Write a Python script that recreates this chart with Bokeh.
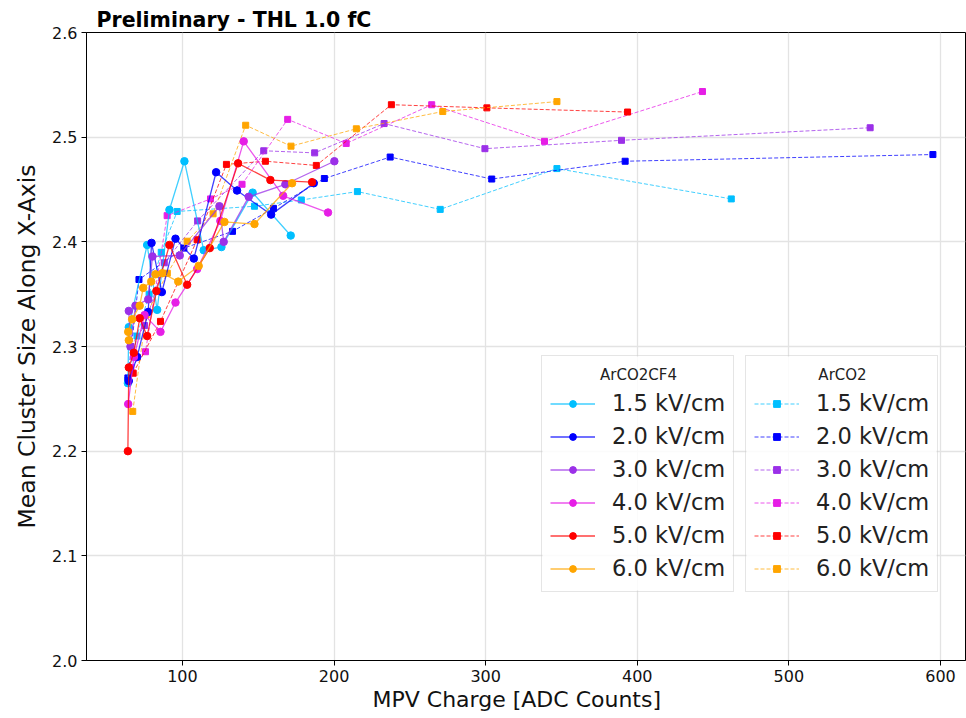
from bokeh.plotting import figure
from bokeh.models import (Legend, LegendItem, FixedTicker, PrintfTickFormatter, Range1d, Label,
                          Title, BoxAnnotation)
from bokeh.embed import file_html
from bokeh.resources import INLINE

fields = ["1.5", "2.0", "3.0", "4.0", "5.0", "6.0"]
colors = ["#00bfff", "#0000ff", "#9b30e8", "#e61ee6", "#ff0000", "#ffa500"]

# ArCO2CF4 (solid, circles)
cf4_x = {
    "1.5": [64, 64.6, 76.7, 83.3, 91.4, 101.3, 114, 125.7, 146.3, 171.4],
    "2.0": [64.6, 70.1, 77.4, 79.6, 86.4, 95.4, 107.5, 122.2, 136, 158.5, 186.6],
    "3.0": [64.6, 65.7, 69, 77.4, 80.2, 98.2, 124.4, 127.2, 143.7, 167.9, 200.2],
    "4.0": [64.2, 68, 75, 85.5, 95.4, 109.7, 125, 140.4, 166.4, 196],
    "5.0": [64, 64.6, 67.9, 71.8, 76.7, 82.8, 91.4, 103.1, 118, 136.7, 158, 185.5],
    "6.0": [64.6, 64.2, 66.8, 71.8, 74.1, 79.4, 82.2, 86.7, 97.2, 110.7, 127.7, 147.5, 172.3],
}
cf4_y = {
    "1.5": [2.265, 2.3185, 2.397, 2.335, 2.4306, 2.477, 2.392, 2.395, 2.447, 2.406],
    "2.0": [2.267, 2.29, 2.333, 2.399, 2.352, 2.403, 2.384, 2.4665, 2.449, 2.426, 2.456],
    "3.0": [2.334, 2.30, 2.339, 2.345, 2.386, 2.387, 2.434, 2.40, 2.443, 2.455, 2.477],
    "4.0": [2.245, 2.29, 2.33, 2.314, 2.342, 2.374, 2.42, 2.496, 2.444, 2.428],
    "5.0": [2.2, 2.28, 2.294, 2.327, 2.31, 2.353, 2.397, 2.359, 2.394, 2.475, 2.459, 2.457],
    "6.0": [2.306, 2.314, 2.326, 2.339, 2.356, 2.362, 2.369, 2.370, 2.362, 2.377, 2.419, 2.417, 2.456],
}
# ArCO2 (dashed, squares)
co2_x = {
    "1.5": [64, 70, 78, 86, 96.5, 147.5, 178.4, 215.4, 270, 347, 462],
    "2.0": [64, 71.3, 100.9, 133, 160, 193.6, 237, 304, 392, 595],
    "3.0": [66, 75, 88, 110, 153.6, 187.2, 233, 299.5, 389.6, 553.6],
    "4.0": [66, 75.6, 89.9, 118.5, 139.3, 169.4, 208, 264.4, 338.8, 443],
    "5.0": [67.5, 85.5, 109.7, 129, 154.7, 188.3, 237.8, 300.8, 393.6],
    "6.0": [67.2, 76, 90, 103.1, 120.2, 141.7, 171.6, 214.7, 271.7, 347],
}
co2_y = {
    "1.5": [2.268, 2.31, 2.35, 2.39, 2.429, 2.434, 2.440, 2.448, 2.431, 2.470, 2.441],
    "2.0": [2.27, 2.364, 2.394, 2.41, 2.432, 2.4605, 2.481, 2.460, 2.477, 2.4834],
    "3.0": [2.30, 2.32, 2.38, 2.42, 2.487, 2.485, 2.513, 2.489, 2.497, 2.509],
    "4.0": [2.28, 2.295, 2.425, 2.441, 2.455, 2.517, 2.494, 2.531, 2.496, 2.5436],
    "5.0": [2.2745, 2.324, 2.402, 2.474, 2.477, 2.473, 2.531, 2.528, 2.524],
    "6.0": [2.238, 2.33, 2.37, 2.4006, 2.4268, 2.5114, 2.4914, 2.508, 2.5245, 2.534],
}
x_ticks = [100, 200, 300, 400, 500, 600]
y_ticks = [2.0, 2.1, 2.2, 2.3, 2.4, 2.5, 2.6]

p = figure(frame_width=879, frame_height=628, output_backend="svg", toolbar_location=None,
           x_range=Range1d(36.7, 616.5), y_range=Range1d(2.0, 2.6),
           min_border_left=86, min_border_right=1, min_border_top=32, min_border_bottom=58,
           background_fill_color="white", border_fill_color="white")

p.title.text = "Preliminary - THL 1.0 fC"
p.title.text_font = "DejaVu Sans"
p.title.text_font_size = "20.5px"
p.title.text_font_style = "bold"
p.title.text_color = "black"
p.title.align = "left"
p.title.offset = 10
p.title.standoff = 1

p.outline_line_color = "black"
p.outline_line_width = 1

for ax in (p.xaxis[0], p.yaxis[0]):
    ax.axis_line_color = "black"
    ax.major_tick_line_color = "black"
    ax.major_tick_out = 5
    ax.major_tick_in = 0
    ax.minor_tick_line_color = None
    ax.major_label_text_font = "DejaVu Sans"
    ax.major_label_text_font_size = "16px"
    ax.major_label_text_color = "#111111"
    ax.major_label_standoff = 4
    ax.axis_label_text_font = "DejaVu Sans"
    ax.axis_label_text_font_style = "normal"
    ax.axis_label_text_color = "#111111"

p.yaxis.axis_label = "Mean Cluster Size Along X-Axis"
p.yaxis.axis_label_text_font_size = "23.5px"
p.xaxis.ticker = FixedTicker(ticks=x_ticks)
p.yaxis.ticker = FixedTicker(ticks=y_ticks)
p.yaxis.formatter = PrintfTickFormatter(format="%.1f")
p.yaxis.axis_label_standoff = 8

p.add_layout(Title(text="MPV Charge [ADC Counts]", align="left", offset=286, standoff=0,
                   text_font="DejaVu Sans", text_font_size="22px", text_font_style="normal",
                   text_color="#111111"), "below")

p.xgrid.ticker = FixedTicker(ticks=x_ticks)
p.ygrid.ticker = FixedTicker(ticks=y_ticks)
p.grid.grid_line_color = "#e3e3e3"
p.grid.grid_line_width = 1.3

# semi-opaque white backgrounds behind the two legends (data coordinates)
for bl, br in ((337.5, 462.8), (472.0, 597.4)):
    p.add_layout(BoxAnnotation(left=bl, right=br, bottom=2.0669, top=2.2904,
                               fill_color="white", fill_alpha=0.85, line_color=None))

items_cf4 = []
items_co2 = []
for f, c in zip(fields, colors):
    l1 = p.line(co2_x[f], co2_y[f], line_color=c, line_width=1, line_dash="4 2", line_alpha=0.75)
    s1 = p.scatter(co2_x[f], co2_y[f], marker="square", size=6, fill_color=c, line_color=c)
    items_co2.append(LegendItem(label=f"{f} kV/cm", renderers=[l1, s1]))
for f, c in zip(fields, colors):
    l2 = p.line(cf4_x[f], cf4_y[f], line_color=c, line_width=1.3, line_alpha=0.75)
    s2 = p.scatter(cf4_x[f], cf4_y[f], marker="circle", size=7.5, fill_color=c, line_color=c)
    items_cf4.append(LegendItem(label=f"{f} kV/cm", renderers=[l2, s2]))


def make_legend(items, loc):
    lg = Legend(items=items, title=" ", location=loc, margin=0, padding=8,
                label_text_font="DejaVu Sans", label_text_font_size="22.5px",
                label_text_color="#222222",
                title_text_font="DejaVu Sans", title_text_font_size="15px",
                title_text_font_style="normal", title_text_color="#222222",
                title_standoff=6,
                glyph_width=45, glyph_height=17, label_height=30, label_standoff=17,
                spacing=3, border_line_color="#cccccc", border_line_width=1,
                background_fill_alpha=0.0)
    return lg


p.add_layout(make_legend(items_cf4, (455, 68)), "center")
p.add_layout(make_legend(items_co2, (659, 68)), "center")

leg_titles = ["ArCO2CF4", "ArCO2"]
leg_title_x = [638, 842]
for t, tx in zip(leg_titles, leg_title_x):
    p.add_layout(Label(x=tx - 86, y=660 - 374, x_units="screen", y_units="screen", text=t,
                       text_font="DejaVu Sans", text_font_size="15px", text_color="#222222",
                       text_align="center", text_baseline="middle", level="overlay"))

open("out.html", "w").write(file_html(p, INLINE))
